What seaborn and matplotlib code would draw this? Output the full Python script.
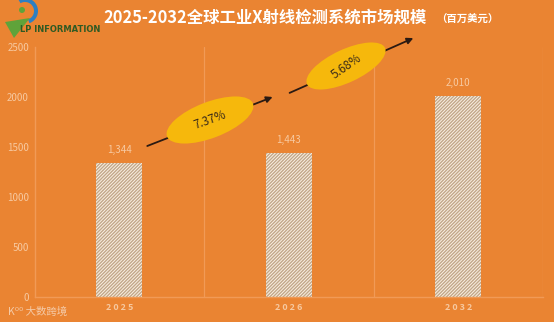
import matplotlib
matplotlib.use("Agg")
import matplotlib.pyplot as plt
from matplotlib.patches import Ellipse, Wedge, Polygon
from matplotlib.transforms import IdentityTransform
import seaborn as sns
import pandas as pd

years = ["2025", "2026", "2032"]
market_size = [1344, 1443, 2010]
value_labels = ["1,344", "1,443", "2,010"]
growth_labels = ["7.37%", "5.68%"]
y_ticks = [0, 500, 1000, 1500, 2000, 2500]

BG = "#EA8432"
LIGHT = "#F7C9A0"
GRID = "#F19A56"

sns.set_theme(style="white")
plt.rcParams["font.family"] = ["Noto Sans CJK SC", "DejaVu Sans"]

W, H = 554, 322
fig = plt.figure(figsize=(W / 100, H / 100), dpi=100, facecolor=BG)
ax = fig.add_axes([34.5 / W, (H - 297) / H, (543 - 34.5) / W, 250 / H])
ax.set_facecolor(BG)

df = pd.DataFrame({"year": years, "value": market_size})
sns.barplot(data=df, x="year", y="value", ax=ax, width=0.27,
            color="#FBF1E4", saturation=1)
for p in ax.patches:
    p.set_hatch("//////////")
    p.set_edgecolor("#C2A78A")
    p.set_linewidth(0)

ax.set_xlim(-0.5, 2.5)
ax.set_ylim(0, 2500)
ax.set_yticks(y_ticks)
ax.set_yticklabels([str(t) for t in y_ticks], fontsize=7, color=LIGHT)
ax.set_xticks(range(len(years)))
ax.set_xticklabels([" ".join(y) for y in years], fontsize=6.5, color=LIGHT,
                   fontweight="bold")
ax.tick_params(axis="both", length=0, pad=4)
ax.set_xlabel("")
ax.set_ylabel("")

for side in ["top", "right"]:
    ax.spines[side].set_visible(False)
for side in ["left", "bottom"]:
    ax.spines[side].set_color(GRID)
    ax.spines[side].set_linewidth(1.0)

for xv in [0.5, 1.5, 2.5]:
    ax.axvline(xv, color=GRID, lw=0.9, zorder=0)

for i, (v, lab) in enumerate(zip(market_size, value_labels)):
    ax.text(i, v + 80, lab, ha="center", va="bottom", fontsize=7, color=LIGHT)

# growth arrows between the bars
arrow_kw = dict(arrowstyle="-|>", color="#2B1A12", lw=1.3, mutation_scale=9)
ax.annotate("", xy=(0.92, 2010), xytext=(0.15, 1500),
            arrowprops=arrow_kw, annotation_clip=False)
ax.annotate("", xy=(1.75, 2600), xytext=(0.99, 2030),
            arrowprops=arrow_kw, annotation_clip=False)

# CAGR ovals, placed in pixel space so they keep their shape
pix = IdentityTransform()
ovals = [((210, H - 120), 92, 36, 21), ((346, H - 66), 86, 33, 25)]
for ((cx, cy), w, h, ang), lab, trot in zip(ovals, growth_labels, [20, 35]):
    e = Ellipse((cx, cy), w, h, angle=ang, transform=pix,
                facecolor="#F6B80C", edgecolor="none", zorder=5)
    fig.add_artist(e)
    fig.text(cx / W, cy / H, lab, ha="center", va="center", rotation=trot,
             fontsize=8.5, color="#3A2A1A", zorder=6)

# title
fig.text(103 / W, 1 - 18 / H, "2025-2032全球工业X射线检测系统市场规模",
         ha="left", va="center", fontsize=11.8, fontweight="bold", color="white")
fig.text(436 / W, 1 - 19 / H, "（百万美元）", ha="left", va="center",
         fontsize=7.5, fontweight="bold", color="white")

# company logo
fig.add_artist(Wedge((25, H - 11), 13, -70, 120, width=4, transform=pix,
                     facecolor="#2E7FC1", edgecolor="none"))
fig.add_artist(Polygon([(5, H - 22), (30, H - 18), (14, H - 38)], closed=True,
                       transform=pix, facecolor="#5FA33A", edgecolor="none"))
fig.add_artist(Ellipse((22, H - 10), 6, 6, transform=pix,
                       facecolor="#5FA33A", edgecolor="none"))
fig.text(20 / W, 1 - 30 / H, "LP INFORMATION", ha="left", va="center",
         fontsize=6, fontweight="bold", color="#2F5A23", family=["DejaVu Sans"])

# footer mark
fig.text(8 / W, 1 - 312 / H, "K⁰⁰ 大数跨境", ha="left", va="center",
         fontsize=7.5, color="#F6D2B4", alpha=0.9)

fig.savefig("out.png", dpi=100, facecolor=BG)
